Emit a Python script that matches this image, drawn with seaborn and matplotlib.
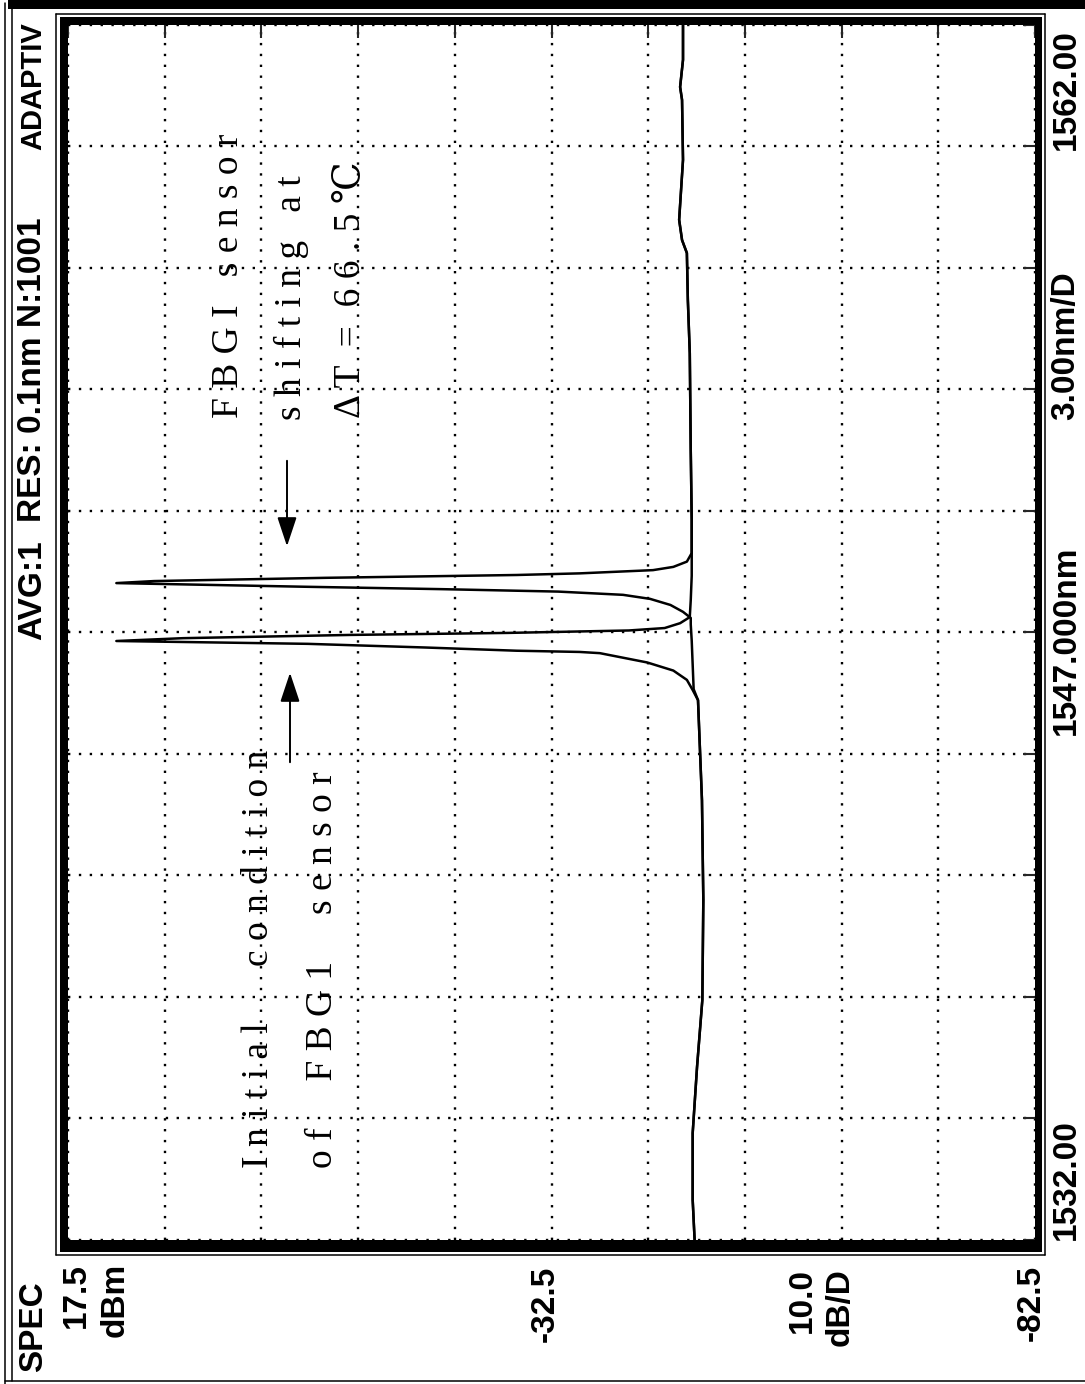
import numpy as np
import pandas as pd
import matplotlib
matplotlib.use("Agg")
import matplotlib.pyplot as plt
from matplotlib.patches import Rectangle
import seaborn as sns

W, H = 1085, 1384

# power axis (horizontal here, the screen is rotated) and wavelength axis
p_ticks = [17.5, 7.5, -2.5, -12.5, -22.5, -32.5, -42.5, -52.5, -62.5, -72.5, -82.5]
lam_ticks = [1532, 1535, 1538, 1541, 1544, 1547, 1550, 1553, 1556, 1559, 1562]

# baseline (both sensors share it away from the peaks)
lam_base_short = [1532.0, 1532.99, 1534.64, 1536.27, 1537.93, 1540.4, 1542.86, 1545.33]
p_base_short = [-47.3, -47.1, -47.1, -47.55, -48.1, -48.2, -48.06, -47.65]
lam_base_long = [1549.78, 1551.5, 1553.9, 1555.21, 1556.37, 1556.69, 1557.19, 1558.67, 1560.15, 1560.47, 1561.14, 1562.0]
p_base_long = [-47.0, -46.9, -46.8, -46.6, -46.5, -46.0, -45.7, -46.1, -46.0, -45.8, -46.1, -46.1]

# initial FBG1 peak
lam_peak_initial = [1545.58, 1545.83, 1546.06, 1546.26, 1546.49, 1546.52, 1546.55, 1546.63, 1546.72, 1546.79,
                    1546.86, 1546.94, 1546.99, 1547.05, 1547.11, 1547.23, 1547.38, 1547.8, 1548.4, 1549.0]
p_peak_initial = [-47.1, -46.5, -45.1, -42.4, -37.5, -35.4, -28.9, -19.4, -7.3, 12.5,
                  5.6, -11.7, -28.0, -40.5, -44.2, -45.8, -46.8, -46.9, -47.0, -47.0]

# shifted FBG1 peak
lam_peak_shifted = [1545.6, 1546.2, 1546.8, 1547.2, 1547.36, 1547.51, 1547.68, 1547.83, 1547.93, 1548.01, 1548.07,
                    1548.13, 1548.22, 1548.27, 1548.35, 1548.42, 1548.46, 1548.54, 1548.62, 1548.75, 1548.96]
p_peak_shifted = [-47.2, -47.1, -47.0, -46.9, -46.9, -46.1, -44.8, -42.7, -39.9, -33.2, -21.2,
                  -6.9, 12.5, 8.6, -9.1, -28.9, -35.4, -43.0, -45.1, -46.5, -47.0]

initial = pd.DataFrame({
    "wavelength": lam_base_short + lam_peak_initial + lam_base_long,
    "power": p_base_short + p_peak_initial + p_base_long,
})
shifted = pd.DataFrame({
    "wavelength": lam_base_short + lam_peak_shifted + lam_base_long,
    "power": p_base_short + p_peak_shifted + p_base_long,
})

sns.set_style("white")
plt.rcParams["font.family"] = ["Liberation Sans", "DejaVu Sans"]

fig = plt.figure(figsize=(W / 100, H / 100), dpi=100)
fig.patch.set_facecolor("white")

# data area (inner edges of the thick frame)
x0, x1, y0, y1 = 68, 1035, 25, 1240
ax = fig.add_axes([x0 / W, 1 - y1 / H, (x1 - x0) / W, (y1 - y0) / H])
for df in (initial, shifted):
    sns.lineplot(data=df, x="power", y="wavelength", sort=False, estimator=None,
                 color="black", linewidth=1.8, ax=ax)
ax.set_xlim(17.5, -82.5)
ax.set_ylim(1532, 1562)
ax.set_xticks(p_ticks)
ax.set_yticks(lam_ticks)
ax.grid(True, color="black", linestyle=(0, (1, 3.6)), linewidth=1.7)
ax.tick_params(direction="in", length=9, width=1.5, top=True, right=True,
               labelbottom=False, labelleft=False)
ax.set_xlabel("")
ax.set_ylabel("")
for s in ax.spines.values():
    s.set_visible(False)

# overlay in pixel coordinates for the instrument frame and texts
ov = fig.add_axes([0, 0, 1, 1])
ov.set_xlim(0, W)
ov.set_ylim(H, 0)
ov.axis("off")
ov.patch.set_visible(False)

def box(x, y, w, h):
    ov.add_patch(Rectangle((x, y), w, h, facecolor="black", edgecolor="none"))

box(60, 17, 8, 1235)      # left thick frame
box(1035, 17, 7, 1235)    # right
box(60, 17, 982, 8)       # top
box(60, 1240, 982, 12)    # bottom
box(8, 0, 1077, 9)        # top bar of the screen

thin = dict(color="black", linewidth=1.1)
ov.plot([5, 5], [3, 1384], **thin)
ov.plot([12, 12], [9, 1381], **thin)
ov.plot([5, 1085], [1381, 1381], **thin)
ov.plot([56, 56], [14, 1255], **thin)
ov.plot([56, 1045], [14, 14], **thin)
ov.plot([1045, 1045], [14, 1255], **thin)
ov.plot([56, 1045], [1255, 1255], **thin)

lab = dict(rotation=90, fontweight="bold", fontsize=24, color="black",
           family=["Liberation Sans", "DejaVu Sans"])

# header along the left edge
ov.text(33, 640, "AVG:1", ha="center", va="bottom", **lab)
ov.text(33, 522, "RES: 0.1nm N:1001", ha="center", va="bottom", **lab)
ov.text(33, 150, "ADAPTIV", ha="center", va="bottom",
        **{**lab, "fontsize": 21})

# wavelength labels along the right edge
ov.text(1066, 150, "1562.00", ha="center", va="bottom", **lab)
ov.text(1066, 420, "3.00nm/D", ha="center", va="bottom", **lab)
ov.text(1066, 735, "1547.000nm", ha="center", va="bottom", **lab)
ov.text(1066, 1240, "1532.00", ha="center", va="bottom", **lab)

# power labels along the bottom edge
ov.text(34, 1372, "SPEC", ha="center", va="bottom", **lab)
ov.text(76, 1263, "17.5", ha="center", va="top", **lab)
ov.text(115, 1263, "dBm", ha="center", va="top", **lab)
ov.text(545, 1266, "-32.5", ha="center", va="top", **lab)
ov.text(802, 1268, "10.0", ha="center", va="top", **lab)
ov.text(840, 1268, "dB/D", ha="center", va="top", **lab)
ov.text(1031, 1265, "-82.5", ha="center", va="top", **lab)

# annotations
ann = dict(rotation=90, fontsize=27, color="black",
           family=["Liberation Serif", "DejaVu Serif", "Noto Sans CJK SC"])
ov.text(259, 1168, "I n i t i a l      c o n d i t i o n", ha="center", va="bottom", **ann)
ov.text(323, 1168, "o f     F B G 1     s e n s o r", ha="center", va="bottom", **ann)
ov.text(229, 418, "F B G I   s e n s o r", ha="center", va="bottom", **ann)
ov.text(291, 420, "s h i f t i n g   a t", ha="center", va="bottom", **ann)
ov.text(350, 418, "Δ T  =  6 6 . 5 ℃", ha="center", va="bottom", **ann)

arrow = dict(arrowstyle="-|>,head_length=0.9,head_width=0.3", color="black",
             linewidth=1.4, mutation_scale=20)
ov.annotate("", xy=(287, 549), xytext=(287, 458), arrowprops=arrow)
ov.annotate("", xy=(290, 670), xytext=(290, 765), arrowprops=arrow)

fig.savefig("out.png", dpi=100)
